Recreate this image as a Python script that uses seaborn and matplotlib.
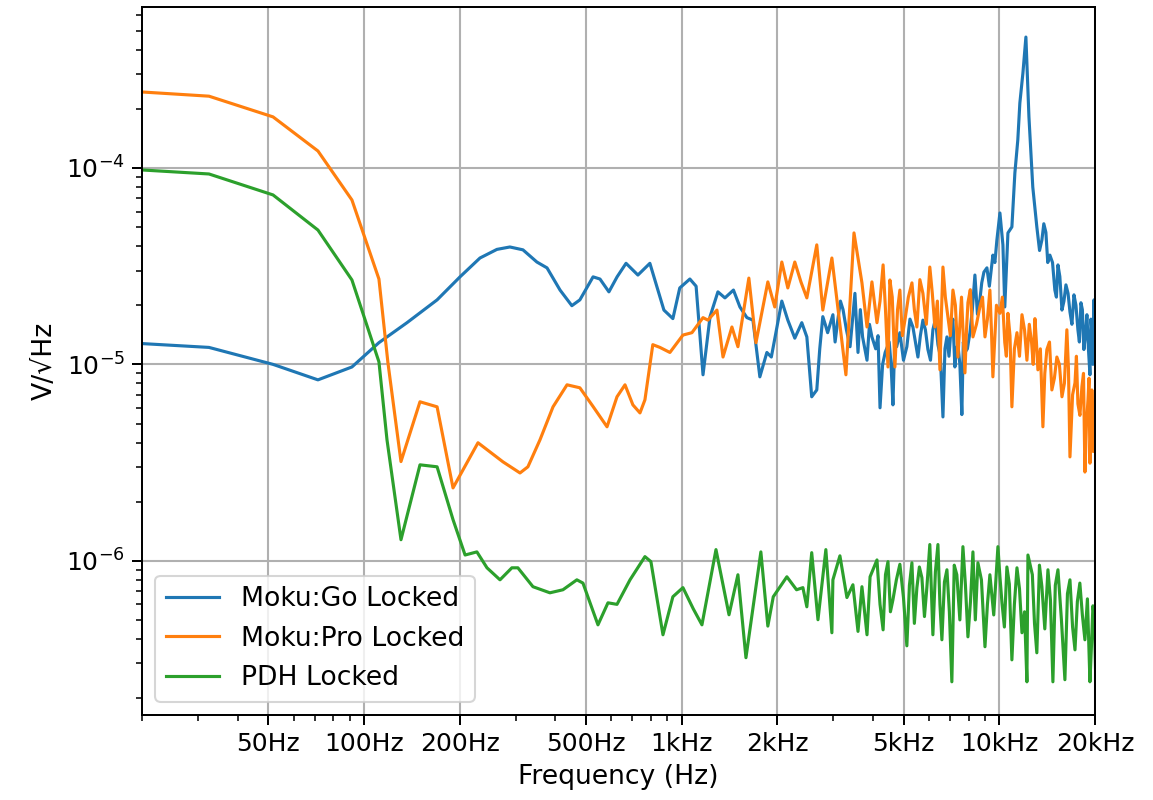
import numpy as np
import pandas as pd
import matplotlib
matplotlib.use("Agg")
import matplotlib.pyplot as plt
import seaborn as sns

series_names = ["Moku:Go Locked", "Moku:Pro Locked", "PDH Locked"]
series_colors = ["#1f77b4", "#ff7f0e", "#2ca02c"]

tick_freqs = [50, 100, 200, 500, 1000, 2000, 5000, 10000, 20000]
tick_labels = ["50Hz", "100Hz", "200Hz", "500Hz", "1kHz", "2kHz", "5kHz", "10kHz", "20kHz"]

# Moku:Go Locked
freq_go = [12.8, 32.5, 51.7, 71.6, 91.6, 111.4, 136.5, 169.8, 200.5, 231.7, 262, 287.8, 316.4, 350,
           376.7, 414, 451, 478, 526, 553, 590, 626, 668, 728, 794, 879, 938, 986, 1061, 1110, 1167,
           1228, 1300, 1368, 1455, 1525, 1604, 1676, 1762, 1854, 1915, 2066, 2158, 2270, 2388, 2477,
           2566, 2662, 2781, 2880, 2992, 3100, 3220, 3388, 3510, 3589, 3710, 3831, 3970, 4080, 4210,
           4370, 4500, 4623, 4750, 4862, 5114, 5343, 5541, 5745, 5957, 6176, 6406, 6643, 6838, 7039,
           7244, 7405, 7619, 7791, 8078, 8375, 8683, 8940, 9137, 9541, 9822, 10040, 10260, 10400,
           10640, 10950, 11190, 11430, 11600, 11860, 12120, 12390, 12740, 13120, 13610, 14010, 14420,
           14950, 15290, 15740, 16200, 16680, 17170, 17670, 18060, 18450, 18860, 19280, 19550, 19850,
           20140]
psd_go = [1.33e-5, 1.22e-5, 1.00e-5, 8.34e-6, 9.7e-6, 1.29e-5, 1.63e-5, 2.13e-5, 2.79e-5, 3.48e-5,
          3.85e-5, 3.96e-5, 3.83e-5, 3.32e-5, 3.1e-5, 2.39e-5, 1.99e-5, 2.13e-5, 2.79e-5, 2.72e-5,
          2.34e-5, 2.79e-5, 3.27e-5, 2.85e-5, 3.27e-5, 1.89e-5, 1.71e-5, 2.45e-5, 2.72e-5, 2.5e-5,
          8.85e-6, 1.75e-5, 2.34e-5, 2.18e-5, 2.39e-5, 1.96e-5, 1.73e-5, 1.68e-5, 8.64e-6, 1.15e-5,
          1.09e-5, 2.1e-5, 1.68e-5, 1.36e-5, 1.63e-5, 1.38e-5, 6.84e-6, 7.41e-6, 1.75e-5, 1.45e-5,
          1.79e-5, 1.68e-5, 1.9e-5, 1.23e-5, 2.3e-5, 1.15e-5, 1.38e-5, 1.05e-5, 1.38e-5, 1.2e-5,
          6.01e-6, 1.15e-5, 1.3e-5, 6.22e-6, 1.23e-5, 1.45e-5, 1.23e-5, 1.55e-5, 1.09e-5, 1.68e-5,
          1.19e-5, 1.5e-5, 1.26e-5, 5.4e-6, 1.38e-5, 1.5e-5, 9.7e-6, 1.26e-5, 5.55e-6, 1.15e-5,
          1.45e-5, 2.85e-5, 2.13e-5, 2.95e-5, 3.1e-5, 3.6e-5, 4.3e-5, 5.9e-5, 4.06e-5, 1.96e-5,
          4.67e-5, 5.01e-5, 9.44e-5, 1.39e-4, 2.14e-4, 3.04e-4, 4.64e-4, 1.82e-4, 8.0e-5, 5.01e-5,
          4.3e-5, 4.7e-5, 3.6e-5, 2.39e-5, 3.21e-5, 1.89e-5, 2.54e-5, 1.85e-5, 2.26e-5, 1.5e-5,
          2.06e-5, 1.19e-5, 1.79e-5, 8.85e-6, 1.5e-5, 2.13e-5, 8.3e-6]
# extra readings in the noisy part of Moku:Go
freq_go_noise = [2720, 2830, 3040, 3160, 3300, 3450, 3650, 3770, 3900, 4150, 4290, 4560, 4690, 4990,
                 5230, 5440, 5640, 5850, 6070, 6290, 6520, 6740, 6940, 7140, 7320, 7510, 7700, 7930,
                 8220, 8530, 8800, 9300, 9680, 13380, 13800, 14200, 14700, 15120, 15500, 15970, 16450,
                 16920, 17420, 17860, 18250, 18650, 19070, 19420, 19700]
psd_go_noise = [1.2e-5, 1.6e-5, 1.3e-5, 2.1e-5, 1.5e-5, 1.7e-5, 1.9e-5, 1.2e-5, 1.6e-5, 1.4e-5,
                1.0e-5, 1.0e-5, 1.4e-5, 1.05e-5, 1.7e-5, 1.3e-5, 1.4e-5, 1.5e-5, 1.05e-5, 1.7e-5,
                1.1e-5, 1.2e-5, 1.1e-5, 1.7e-5, 1.2e-5, 1.0e-5, 1.3e-5, 1.2e-5, 1.9e-5, 1.8e-5,
                2.6e-5, 2.5e-5, 3.3e-5, 3.8e-5, 5.2e-5, 3.3e-5, 3.3e-5, 2.2e-5, 2.8e-5, 2.1e-5,
                2.3e-5, 1.6e-5, 2.0e-5, 1.3e-5, 1.9e-5, 1.4e-5, 1.2e-5, 1.7e-5, 1.0e-5]

# Moku:Pro Locked
freq_pro = [12.8, 32.5, 51.7, 71.6, 91.6, 111.4, 118.9, 130.7, 150, 169.8, 190.6, 228.4, 273.7, 309.7,
            328, 358, 393.5, 435.5, 478, 526, 582, 625.6, 663, 702, 739, 766, 811, 854, 918, 1009, 1077,
            1167, 1209, 1291, 1349, 1439, 1503, 1627, 1713, 1867, 1963, 2066, 2158, 2270, 2373, 2477,
            2662, 2781, 2970, 3081, 3288, 3486, 3693, 3831, 3970, 4118, 4305, 4460, 4522, 4690, 4862,
            5043, 5306, 5500, 5745, 6040, 6266, 6500, 6643, 6887, 7142, 7405, 7791, 7962, 8256, 8683,
            9009, 9336, 9541, 10040, 10400, 10640, 10950, 11360, 11780, 12210, 12630, 12940, 13220,
            13710, 14110, 14630, 15170, 15740, 16310, 16680, 17300, 17670, 18190, 18590, 19010, 19280,
            19550, 19750, 20140]
psd_pro = [2.55e-4, 2.32e-4, 1.82e-4, 1.22e-4, 6.87e-5, 2.72e-5, 1.02e-5, 3.2e-6, 6.45e-6, 6.08e-6,
           2.35e-6, 3.99e-6, 3.19e-6, 2.8e-6, 3.01e-6, 4.13e-6, 6.08e-6, 7.87e-6, 7.6e-6, 6.1e-6,
           4.81e-6, 6.84e-6, 7.87e-6, 6.22e-6, 5.66e-6, 6.6e-6, 1.26e-5, 1.22e-5, 1.15e-5, 1.41e-5,
           1.45e-5, 1.73e-5, 1.68e-5, 1.89e-5, 1.09e-5, 1.55e-5, 1.23e-5, 2.75e-5, 1.29e-5, 2.63e-5,
           1.96e-5, 3.32e-5, 2.45e-5, 3.32e-5, 2.63e-5, 2.18e-5, 4.06e-5, 1.89e-5, 3.48e-5, 2.13e-5,
           8.85e-6, 4.67e-5, 2.6e-5, 1.55e-5, 2.63e-5, 1.63e-5, 3.21e-5, 9.7e-6, 2.69e-5, 9.7e-6,
           2.39e-5, 1.68e-5, 2.6e-5, 1.55e-5, 2.3e-5, 3.13e-5, 1.55e-5, 9.38e-6, 3.13e-5, 1.75e-5,
           2.39e-5, 1.09e-5, 9.05e-6, 2.06e-5, 1.38e-5, 1.96e-5, 1.38e-5, 2.39e-5, 8.64e-6, 1.82e-5,
           1.29e-5, 1.82e-5, 6.08e-6, 1.45e-5, 1.79e-5, 1.05e-5, 1.29e-5, 1.71e-5, 9.38e-6, 4.81e-6,
           1.19e-5, 7.41e-6, 1.09e-5, 6.84e-6, 1.5e-5, 3.38e-6, 8.05e-6, 6.3e-6, 7.7e-6, 2.83e-6,
           6.6e-6, 3.14e-6, 7.41e-6, 3.6e-6, 4.13e-6]
# extra readings in the noisy part of Moku:Pro
freq_pro_noise = [4210, 4380, 4600, 4780, 4950, 5170, 5400, 5620, 5890, 6150, 6380, 6570, 6760, 7010,
                  7270, 7600, 7880, 8100, 8470, 8850, 9170, 9440, 9790, 10220, 10520, 10800, 11150,
                  11570, 12000, 12420, 12780, 13080, 13460, 13900, 14380, 14900, 15450, 16020, 16500,
                  17000, 17480, 17930, 18400, 18800, 19150, 19650]
psd_pro_noise = [2.1e-5, 1.9e-5, 2.2e-5, 1.9e-5, 1.4e-5, 2.2e-5, 1.9e-5, 2.7e-5, 1.6e-5, 2.3e-5,
                 2.1e-5, 1.8e-5, 2.2e-5, 1.4e-5, 2.0e-5, 2.2e-5, 1.5e-5, 2.4e-5, 1.6e-5, 2.2e-5,
                 1.7e-5, 1.5e-5, 2.0e-5, 2.2e-5, 1.1e-5, 1.4e-5, 1.2e-5, 1.1e-5, 1.5e-5, 1.6e-5,
                 1.0e-5, 1.3e-5, 1.2e-5, 9.0e-6, 1.3e-5, 8.5e-6, 1.0e-5, 8.0e-6, 9.5e-6, 7.0e-6,
                 1.1e-5, 5.5e-6, 9.0e-6, 5.0e-6, 8.5e-6, 6.0e-6]

# PDH Locked
freq_pdh = [12.8, 32.5, 51.7, 71.6, 91.6, 111.4, 118.1, 130.7, 150, 169.8, 190.6, 208, 226.6, 243.8,
            267.9, 292, 305, 340.2, 384.7, 422.8, 467.7, 488.8, 545, 586, 625.6, 687.5, 766, 800, 873,
            938, 1009, 1087, 1158, 1282, 1409, 1503, 1593, 1775, 1867, 1942, 2143, 2299, 2407, 2477,
            2566, 2685, 2843, 2970, 2992, 3148, 3312, 3459, 3589, 3693, 3831, 3917, 4118, 4305, 4460,
            4623, 4862, 5114, 5305, 5500, 5703, 5912, 6040, 6176, 6406, 6593, 6838, 7086, 7346, 7678,
            7962, 8256, 8559, 9009, 9336, 9895, 10190, 10560, 10950, 11360, 11780, 12210, 12300, 13120,
            13610, 14220, 14740, 15290, 16080, 16680, 17300, 17920, 18590, 19280, 19700, 20140]
psd_pdh = [1.02e-4, 9.32e-5, 7.29e-5, 4.83e-5, 2.69e-5, 1.03e-5, 4.13e-6, 1.28e-6, 3.08e-6, 3.01e-6,
           1.62e-6, 1.07e-6, 1.11e-6, 9.21e-7, 8.0e-7, 9.21e-7, 9.21e-7, 7.38e-7, 6.87e-7, 7.12e-7,
           8.0e-7, 7.7e-7, 4.72e-7, 6.11e-7, 6.0e-7, 8.0e-7, 1.05e-6, 9.9e-7, 4.2e-7, 6.56e-7, 7.3e-7,
           5.7e-7, 4.72e-7, 1.14e-6, 5.31e-7, 8.49e-7, 3.21e-7, 1.11e-6, 4.65e-7, 6.56e-7, 8.29e-7,
           7.12e-7, 7.3e-7, 5.83e-7, 1.1e-6, 5.01e-7, 1.14e-6, 4.3e-7, 8.0e-7, 1.06e-6, 6.5e-7,
           7.55e-7, 4.37e-7, 7.38e-7, 4.2e-7, 8.29e-7, 1.01e-6, 4.45e-7, 9.9e-7, 6.33e-7, 9.6e-7,
           3.69e-7, 9.77e-7, 7.3e-7, 8.2e-7, 7.3e-7, 1.21e-6, 4.2e-7, 1.21e-6, 3.96e-7, 9.0e-7,
           2.42e-7, 8.49e-7, 1.18e-6, 4.1e-7, 1.11e-6, 9.77e-7, 3.65e-7, 8.49e-7, 1.18e-6, 6.11e-7,
           9.3e-7, 3.13e-7, 9.21e-7, 4.3e-7, 2.42e-7, 1.07e-6, 3.4e-7, 7.38e-7, 9.0e-7, 2.42e-7,
           9.0e-7, 2.48e-7, 8.0e-7, 3.52e-7, 7.7e-7, 3.96e-7, 2.42e-7, 5.9e-7, 2.25e-7]
# extra readings in the noisy part of PDH
freq_pdh_noise = [4210, 4380, 4540, 4740, 4990, 5210, 5400, 5600, 5810, 6110, 6290, 6500, 6715, 6960,
                  7210, 7510, 7820, 8110, 8400, 8780, 9170, 9600, 10040, 10370, 10750, 11150, 11570,
                  12000, 12700, 12900, 13370, 13900, 14480, 15000, 15680, 16380, 17000, 17600, 18250,
                  18930, 19480, 19900]
psd_pdh_noise = [6.0e-7, 8.5e-7, 5.5e-7, 8.0e-7, 6.5e-7, 7.5e-7, 4.8e-7, 9.3e-7, 5.2e-7, 7.0e-7,
                 8.8e-7, 6.0e-7, 7.8e-7, 5.5e-7, 9.5e-7, 5.0e-7, 7.5e-7, 6.2e-7, 5.0e-7, 8.0e-7,
                 6.0e-7, 5.3e-7, 8.3e-7, 4.6e-7, 7.6e-7, 6.0e-7, 7.2e-7, 5.5e-7, 8.5e-7, 4.8e-7,
                 9.5e-7, 4.5e-7, 6.3e-7, 7.5e-7, 5.0e-7, 6.8e-7, 4.6e-7, 6.2e-7, 5.3e-7, 6.4e-7,
                 3.6e-7, 5.2e-7]

frames = []
for name, f, v, fn, vn in zip(series_names,
                              [freq_go, freq_pro, freq_pdh], [psd_go, psd_pro, psd_pdh],
                              [freq_go_noise, freq_pro_noise, freq_pdh_noise],
                              [psd_go_noise, psd_pro_noise, psd_pdh_noise]):
    d = pd.DataFrame({"freq": list(f) + list(fn), "psd": list(v) + list(vn)})
    d = d.sort_values("freq").reset_index(drop=True)
    d["series"] = name
    frames.append(d)
df = pd.concat(frames, ignore_index=True)

W, H, DPI = 1153, 800, 150
fig = plt.figure(figsize=(W / DPI, H / DPI), dpi=DPI)
ax = fig.add_axes([142 / W, 1 - 715 / H, (1095 - 142) / W, (715 - 7) / H])

sns.lineplot(data=df, x="freq", y="psd", hue="series", hue_order=series_names,
             palette=series_colors, estimator=None, sort=False, linewidth=1.5, ax=ax)

ax.set_xscale("log")
ax.set_yscale("log")
ax.set_xlim(20, 20000)
ax.set_ylim(1.64e-7, 6.6e-4)
ax.set_xticks(tick_freqs)
ax.set_xticklabels(tick_labels)
ax.tick_params(axis="both", which="major", labelsize=12, length=4.6, width=0.95)
ax.tick_params(axis="both", which="minor", length=2.7, width=0.75)
ax.grid(True, which="major", color="#b0b0b0", linewidth=1.0)
ax.set_xlabel("Frequency (Hz)", fontsize=12.8)
ax.set_ylabel("V/\u221aHz", fontsize=12.8)
for s in ax.spines.values():
    s.set_color("black")
    s.set_linewidth(0.95)

sns.move_legend(ax, "lower left", title=None, fontsize=12.8)

fig.savefig("out.png", dpi=DPI)
